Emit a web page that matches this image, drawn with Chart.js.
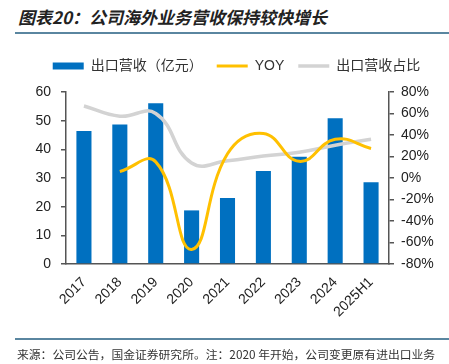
<!DOCTYPE html>
<html>
<head>
<meta charset="utf-8">
<script src="https://cdn.jsdelivr.net/npm/chart.js@4.4.1/dist/chart.umd.min.js"></script>
<style>
  html, body { margin: 0; padding: 0; background: #fff; }
  #wrap { position: relative; width: 449px; height: 364px; overflow: hidden; }
  #chart { position: absolute; left: 0; top: 0; }
  .title {
    position: absolute; left: 18px; top: 4px;
    font: italic bold 17px "Noto Sans CJK SC", sans-serif; color: #222;
    white-space: nowrap;
  }
  .rule { position: absolute; left: 15px; right: 0; height: 2px; background: #5a86a0; }
  .note {
    position: absolute; left: 17px; top: 345px;
    font: 11.8px "Noto Sans CJK SC", sans-serif; color: #333; white-space: nowrap;
  }
</style>
</head>
<body>
<div id="wrap">
  <div class="title">图表20：公司海外业务营收保持较快增长</div>
  <div class="rule" style="top:32px"></div>
  <canvas id="chart" width="449" height="364"></canvas>
  <div class="rule" style="top:338px"></div>
  <div class="note">来源：公司公告，国金证券研究所。注：2020 年开始，公司变更原有进出口业务</div>
</div>
<script>
const years = ["2017", "2018", "2019", "2020", "2021", "2022", "2023", "2024", "2025H1"];
const exportRevenue = [46.4, 48.7, 56.1, 18.7, 23.0, 32.4, 37.4, 50.8, 28.5];
const yoy = [null, 6, 15, -66.5, 22.5, 41.5, 15.5, 36, 27.5];
const exportShare = [67, 57.5, 60, 14, 16, 20.5, 24, 30.5, 36];
const leftTicks = [0, 10, 20, 30, 40, 50, 60];
const rightTicks = [-80, -60, -40, -20, 0, 20, 40, 60, 80];

const axisColor = "#555";
const tickFont = { family: "'Liberation Sans', Arial, sans-serif", size: 14 };

// legend sits a little right of centre and leaves room above the plot
const legendTweak = {
  id: "legendTweak",
  beforeInit(chart) {
    const fit = chart.legend.fit;
    chart.legend.fit = function () {
      fit.bind(chart.legend)();
      this.height = 47;
    };
  },
  afterLayout(chart) {
    chart.legend.left += 12;
    chart.legend.right += 12;
  }
};

new Chart(document.getElementById("chart"), {
  data: {
    labels: years,
    datasets: [
      {
        type: "bar",
        label: "出口营收（亿元）",
        data: exportRevenue,
        yAxisID: "y",
        backgroundColor: "#0070C0",
        borderWidth: 0,
        categoryPercentage: 1,
        barPercentage: 0.42,
        pointStyle: "rect",
        order: 3
      },
      {
        type: "line",
        label: "YOY",
        data: yoy,
        yAxisID: "y1",
        borderColor: "#FFC000",
        backgroundColor: "#FFC000",
        borderWidth: 3,
        pointRadius: 0,
        tension: 0.45,
        pointStyle: "line",
        order: 1
      },
      {
        type: "line",
        label: "出口营收占比",
        data: exportShare,
        yAxisID: "y1",
        borderColor: "#D3D3D3",
        backgroundColor: "#D3D3D3",
        borderWidth: 3.5,
        pointRadius: 0,
        tension: 0.45,
        pointStyle: "line",
        order: 2
      }
    ]
  },
  options: {
    responsive: false,
    animation: false,
    layout: { padding: { top: 45, left: 0, right: 0, bottom: 0 } },
    plugins: {
      legend: {
        position: "top",
        labels: {
          usePointStyle: true,
          pointStyleWidth: 31,
          boxHeight: 7,
          padding: 14,
          color: "#333",
          font: { family: "'Liberation Sans', 'Noto Sans CJK SC', sans-serif", size: 14 },
          sort: (a, b) => a.datasetIndex - b.datasetIndex
        }
      },
      tooltip: { enabled: false }
    },
    scales: {
      x: {
        grid: { display: false },
        border: { display: true, color: axisColor, width: 1.5 },
        ticks: { color: "#222", font: tickFont, minRotation: 45, maxRotation: 45, padding: 2 },
        afterFit(scale) { scale.height = 100; }
      },
      y: {
        position: "left",
        min: 0, max: 60,
        afterBuildTicks(scale) { scale.ticks = leftTicks.map(v => ({ value: v })); },
        grid: { drawOnChartArea: false, drawTicks: true, tickLength: 5, color: axisColor, lineWidth: 1.5 },
        border: { display: true, color: axisColor, width: 1.5 },
        ticks: { color: "#222", font: tickFont, padding: 10 },
        afterFit(scale) { scale.width = 66; }
      },
      y1: {
        position: "right",
        min: -80, max: 80,
        afterBuildTicks(scale) { scale.ticks = rightTicks.map(v => ({ value: v })); },
        grid: { drawOnChartArea: false, drawTicks: true, tickLength: 5, color: axisColor, lineWidth: 1.5 },
        border: { display: true, color: axisColor, width: 1.5 },
        ticks: { color: "#222", font: tickFont, padding: 7, callback: v => v + "%" },
        afterFit(scale) { scale.width = 60; }
      }
    }
  },
  plugins: [legendTweak]
});
</script>
</body>
</html>
